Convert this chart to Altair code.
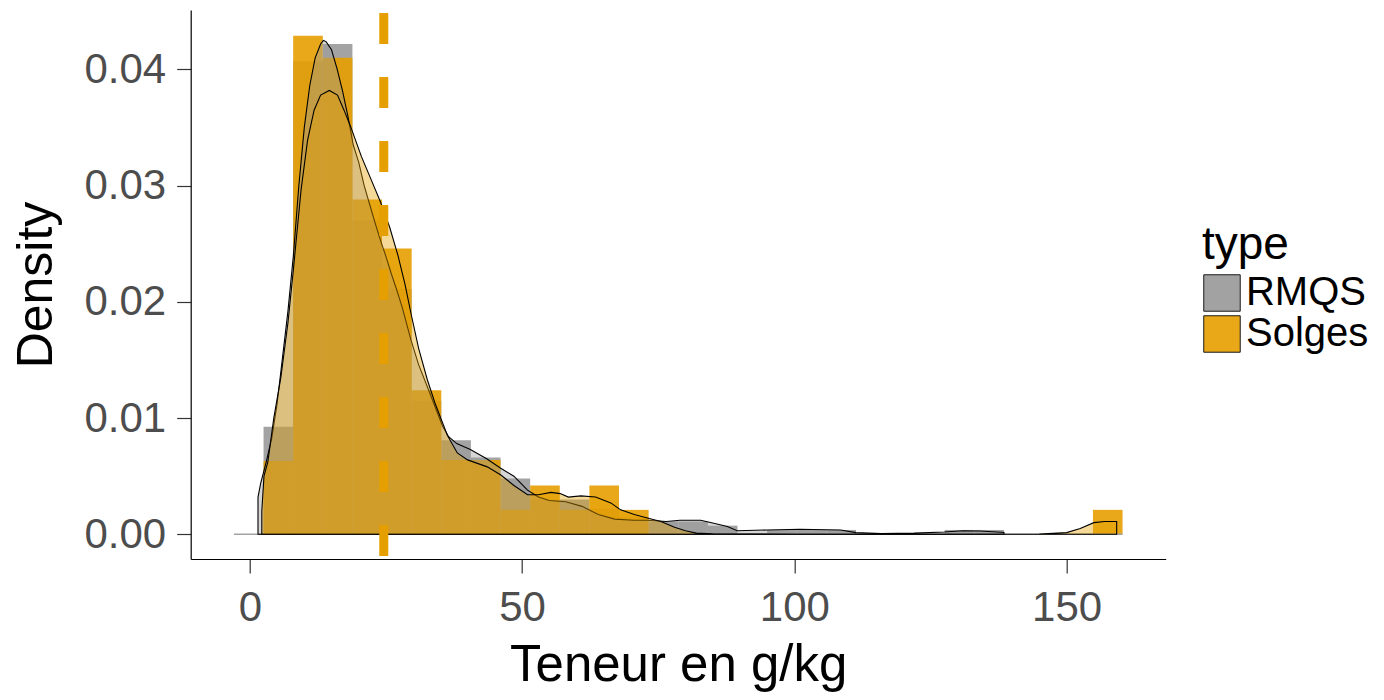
import altair as alt
import pandas as pd

# ---------------- data ----------------
groups = ["RMQS", "Solges"]
colors = ["#999999", "#E69F00"]

bin_width = 5.44
first_center = -0.2
bin_centers = [round(first_center + bin_width * k, 3) for k in range(30)]

rmqs_hist = [0.0, 0.00925, 0.0407, 0.0422, 0.0270, 0.0211, 0.0115, 0.0081, 0.0066,
             0.0048, 0.0030, 0.0030, 0.0022, 0.0015, 0.0011, 0.0011, 0.00074, 0.0,
             0.00037, 0.00037, 0.00037, 0.0, 0.0, 0.0, 0.00037, 0.00037, 0.0, 0.0,
             0.0, 0.0]
solges_hist = [0.0, 0.0063, 0.0429, 0.0410, 0.0288, 0.0246, 0.0124, 0.0064, 0.0064,
               0.0021, 0.0042, 0.0021, 0.0042, 0.0021, 0.0, 0.0, 0.0, 0.0,
               0.0, 0.0, 0.0, 0.0, 0.0, 0.0, 0.0, 0.0, 0.0, 0.0,
               0.0, 0.0021]

rmqs_dens_x = [1.5, 2.0, 3.0, 4.0, 5.0, 6.0, 7.0, 8.0, 9.0, 10.0, 11.0, 12.0, 13.0,
               13.5, 14.0, 15.0, 16.0, 17.0, 18.0, 19.0, 20.0, 21.0, 22.0, 23.0,
               24.0, 25.0, 26.0, 27.0, 28.0, 29.6, 31.0, 32.6, 34.0, 35.4, 36.5,
               38.0, 40.5, 43.5, 46.0, 48.5, 51.0, 53.0, 55.0, 58.0, 61.0, 64.0,
               67.0, 70.5, 73.0, 76.5, 79.0, 82.8, 85.2, 87.7, 89.5, 95.0, 101.0,
               108.5, 111.3, 116.0, 122.0, 127.5, 131.0, 134.0, 137.3, 138.5]
rmqs_dens_y = [0.0032, 0.0044, 0.0062, 0.0082, 0.0112, 0.0152, 0.0192, 0.0240,
               0.0300, 0.0350, 0.0386, 0.0410, 0.0422, 0.0425, 0.0424, 0.0417,
               0.0401, 0.0382, 0.0360, 0.0335, 0.0320, 0.0300, 0.0284, 0.0268,
               0.0253, 0.0239, 0.0224, 0.0210, 0.0195, 0.0167, 0.0146, 0.0127,
               0.0110, 0.0093, 0.0084, 0.0078, 0.0073, 0.0065, 0.0057, 0.0050,
               0.0038, 0.0032, 0.0029, 0.0028, 0.0024, 0.0017, 0.0013, 0.0012,
               0.0012, 0.0011, 0.0012, 0.0012, 0.00095, 0.00066, 0.0003, 0.00037,
               0.00043, 0.00037, 0.00014, 0.00006, 0.0001, 0.0002, 0.0003,
               0.00028, 0.0002, 0.00015]

solges_dens_x = [2.2, 2.6, 3.3, 4.4, 5.7, 7.0, 8.0, 9.4, 10.6, 11.8, 13.0, 14.6,
                 16.1, 17.3, 18.5, 20.5, 22.3, 24.0, 25.7, 27.2, 28.5, 29.6, 31.0,
                 32.6, 34.0, 35.3, 36.3, 38.1, 40.0, 43.6, 46.1, 48.5, 51.0, 53.0,
                 55.3, 57.0, 58.5, 60.8, 63.5, 66.3, 68.1, 70.6, 73.0, 75.5, 78.0,
                 80.0, 82.0, 85.0, 100.0, 120.0, 140.0, 145.0, 150.0, 152.5, 155.0,
                 157.0, 159.2]
solges_dens_y = [0.0020, 0.0050, 0.0062, 0.0100, 0.0135, 0.0182, 0.0228, 0.0296,
                 0.0339, 0.0365, 0.0378, 0.0382, 0.0378, 0.0365, 0.0351, 0.0325,
                 0.0305, 0.0286, 0.0264, 0.0240, 0.0215, 0.0190, 0.0160, 0.0133,
                 0.0113, 0.0097, 0.0085, 0.0070, 0.0064, 0.0058, 0.0051, 0.0042,
                 0.0034, 0.0034, 0.0036, 0.0035, 0.0032, 0.0033, 0.0032, 0.0027,
                 0.0021, 0.0017, 0.0014, 0.0011, 0.0006, 0.0003, 0.0001, 0.00003,
                 0.0, 0.0, 0.0, 0.00002, 0.00014, 0.0005, 0.0010, 0.0011, 0.0011]

solges_mean = 24.6

x_ticks = [0, 50, 100, 150]
y_ticks = [0.0, 0.01, 0.02, 0.03, 0.04]

# ---------------- tables ----------------
rows = []
for name, vals in zip(groups, [rmqs_hist, solges_hist]):
    for c, v in zip(bin_centers, vals):
        rows.append({"type": name, "lo": c - bin_width / 2, "hi": c + bin_width / 2,
                     "density": v, "base": 0.0})
hist_df = pd.DataFrame(rows)
empty_rmqs = hist_df[(hist_df["type"] == "RMQS") & (hist_df["density"] == 0)]

dens_r = pd.DataFrame({"x": rmqs_dens_x, "y": rmqs_dens_y, "base": 0.0})
dens_s = pd.DataFrame({"x": solges_dens_x, "y": solges_dens_y, "base": 0.0})
vline_df = pd.DataFrame({"m": [solges_mean]})

FONT = "Liberation Sans"
xscale = alt.Scale(domain=[-10.86, 168.2], nice=False, zero=False)
yscale = alt.Scale(domain=[-0.00213, 0.04512], nice=False, zero=False)

x_axis = alt.Axis(values=x_ticks, title="Teneur en g/kg", grid=False,
                  labelFontSize=42, titleFontSize=51, tickSize=14,
                  labelPadding=15, titleY=122, titleBaseline="alphabetic",
                  titleAnchor="middle")
y_axis = alt.Axis(values=y_ticks, format=".2f", title="Density", grid=False,
                  labelFontSize=42, titleFontSize=50, tickSize=14,
                  labelPadding=11, titleX=-139, titleY=274.5,
                  titleAngle=270, titleBaseline="alphabetic", titleAlign="center")

bars = alt.Chart(hist_df).mark_rect(opacity=0.9).encode(
    x=alt.X("lo:Q", scale=xscale, axis=x_axis),
    x2="hi:Q",
    y=alt.Y("density:Q", scale=yscale, axis=y_axis),
    y2="base:Q",
    color=alt.Color("type:N",
                    scale=alt.Scale(domain=groups, range=colors),
                    legend=alt.Legend(title="type", orient="none",
                                      legendX=1011.3, legendY=213,
                                      titleFontSize=46, labelFontSize=40,
                                      symbolType="square", symbolSize=1330,
                                      symbolStrokeColor="black",
                                      symbolStrokeWidth=1,
                                      symbolOpacity=0.9,
                                      labelOffset=4, titlePadding=4,
                                      padding=0, rowPadding=-1)),
)

# hairlines left by empty RMQS bins (visible at the left edge in the reference)
empty_lines = alt.Chart(empty_rmqs).mark_rule(color="#A3A3A3", strokeWidth=1.5).encode(
    x=alt.X("lo:Q", scale=xscale), x2="hi:Q", y=alt.Y("base:Q", scale=yscale)
)

area_r = alt.Chart(dens_r).mark_area(
    fill=colors[0], fillOpacity=0.4, stroke="black", strokeWidth=1.1
).encode(x=alt.X("x:Q", scale=xscale), y=alt.Y("y:Q", scale=yscale), y2="base:Q")

area_s = alt.Chart(dens_s).mark_area(
    fill=colors[1], fillOpacity=0.4, stroke="black", strokeWidth=1.1
).encode(x=alt.X("x:Q", scale=xscale), y=alt.Y("y:Q", scale=yscale), y2="base:Q")

vline = alt.Chart(vline_df).mark_rule(
    color="#E69F00", strokeWidth=9, strokeDash=[31, 33], strokeDashOffset=61
).encode(x=alt.X("m:Q", scale=xscale))

chart = alt.layer(bars, empty_lines, area_r, area_s, vline).properties(
    width=975, height=549, autosize="none",
    padding={"left": 182.7, "top": 2, "right": 210, "bottom": 136},
).configure_view(stroke=None).configure_axis(
    labelFont=FONT, titleFont=FONT, labelColor="#4D4D4D", titleColor="black",
    domainColor="black", domainWidth=1.2, tickColor="#333333", tickWidth=1.2,
    titleFontWeight="normal",
).configure_legend(
    labelFont=FONT, titleFont=FONT, labelColor="black", titleColor="black",
    titleFontWeight="normal",
)

chart.save("out.html", embed_options={"renderer": "svg", "actions": False})
